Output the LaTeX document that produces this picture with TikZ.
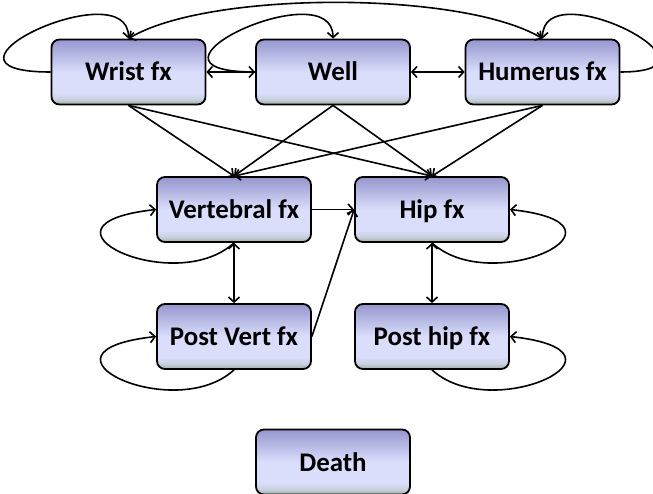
\documentclass[tikz,border=0pt]{standalone}
\usepackage{fontspec}
\setmainfont{Carlito}
\usepackage{tikz}
\usetikzlibrary{arrows.meta}
\definecolor{boxtop}{RGB}{150,150,206}
\definecolor{boxmid}{RGB}{218,222,251}
\definecolor{boxbot}{RGB}{158,176,158}
\pgfdeclareverticalshading{fxshade}{100bp}{color(0bp)=(boxbot); color(25bp)=(boxbot); color(29bp)=(boxmid!70!boxbot); color(34bp)=(boxmid); color(50bp)=(boxmid); color(75bp)=(boxtop); color(100bp)=(boxtop)}

\begin{document}
\begin{tikzpicture}[x=1bp,y=1bp,
    fxbox/.style={draw,line width=1.8bp,rounded corners=8bp,shade,shading=fxshade,
      minimum width=154bp,minimum height=65bp,inner sep=0pt,
      text height=23bp,text depth=5bp,font=\fontsize{27}{31}\selectfont\bfseries},
    trans/.style={line width=1.6bp,-{Straight Barb[length=5bp,width=11bp]}},
    both/.style={trans,{Straight Barb[length=5bp,width=11bp]}-{Straight Barb[length=5bp,width=11bp]}}]
    \useasboundingbox (0,0) rectangle (653,-494);

    \node[fxbox] (wrist) at (128.5,-72) {Wrist fx};
    \node[fxbox] (well) at (333,-72) {Well};
    \node[fxbox] (humerus) at (542.5,-72) {Humerus fx};
    \node[fxbox] (vert) at (234,-209.5) {Vertebral fx};
    \node[fxbox] (hip) at (432,-209.5) {Hip fx};
    \node[fxbox] (postvert) at (234,-336.5) {Post Vert fx};
    \node[fxbox] (posthip) at (432,-336.5) {Post hip fx};
    \node[fxbox] (death) at (333,-462) {Death};

    %top row
    \draw[trans] (wrist.west) .. controls +(-140,0) and +(0,68) .. (wrist.north);
    \draw[trans] (well.west) .. controls +(-140,0) and +(0,68) .. (well.north);
    \draw[trans] (humerus.east) .. controls +(120,0) and +(0,68) .. (humerus.north);
    \draw[both] (wrist.north) .. controls +(80,48) and +(-80,48) .. (humerus.north);
    \draw[both] (wrist) -- (well);
    \draw[both] (well) -- (humerus);
    \foreach \a in {wrist,well,humerus}{
      \draw[trans] (\a.south) -- (vert.north);
      \draw[trans] (\a.south) -- (hip.north);
    }

    %fractures
    \draw[trans] (vert) -- (hip.west);
    \draw[trans] (postvert.east) -- (hip.west);
    \draw[both] (vert) -- (postvert);
    \draw[both] (hip) -- (posthip);
    \draw[trans] (vert.south) .. controls +(-60,-55) and +(-137,-15) .. (vert.west);
    \draw[trans] (postvert.south) .. controls +(-60,-55) and +(-137,-15) .. (postvert.west);
    \draw[trans] (hip.south) .. controls +(60,-55) and +(137,-15) .. (hip.east);
    \draw[trans] (posthip.south) .. controls +(60,-55) and +(137,-15) .. (posthip.east);
\end{tikzpicture}
\end{document}
